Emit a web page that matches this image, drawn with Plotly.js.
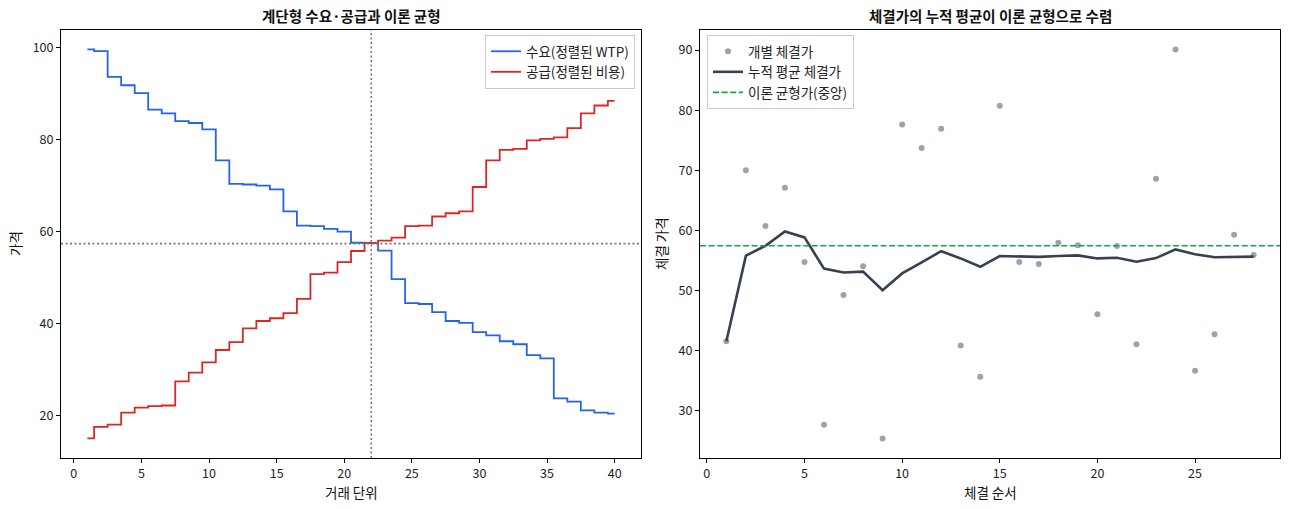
<!DOCTYPE html>
<html>
<head>
<meta charset="utf-8">
<script src="https://cdn.plot.ly/plotly-3.0.1.min.js"></script>
<style>
  html, body { margin: 0; padding: 0; background: #fff; }
  #chart { width: 1289px; height: 509px; }
</style>
</head>
<body>
<div id="chart"></div>
<script>
    'use strict';

    // 거래 단위 1..40
    var units = [];
    for ( var i = 1; i <= 40; i++ ) units.push( i );

    // 정렬된 WTP (수요)
    var demand = [
        99.6, 99.2, 93.6, 91.8, 90.1, 86.5, 85.7, 84.0, 83.6, 82.2,
        75.5, 70.4, 70.25, 70.0, 69.2, 64.4, 61.3, 61.2, 60.6, 60.0,
        57.6, 57.5, 55.9, 49.7, 44.5, 44.3, 42.55, 40.6, 40.2, 38.2,
        37.5, 36.2, 35.55, 33.2, 32.5, 23.8, 23.1, 21.2, 20.7, 20.5
    ];

    // 정렬된 비용 (공급)
    var supply = [
        15.1, 17.6, 18.1, 20.7, 21.8, 22.1, 22.25, 27.5, 29.4, 31.6,
        34.3, 36.0, 39.0, 40.6, 41.2, 42.3, 45.4, 50.8, 51.1, 53.4,
        55.8, 57.5, 58.05, 58.7, 61.2, 61.3, 63.3, 64.0, 64.4, 69.7,
        75.5, 77.75, 78.0, 79.85, 80.15, 80.5, 82.5, 85.7, 87.4, 88.4
    ];

    var eqQty = 22;
    var eqPrice = 57.4;

    // 체결 순서 1..28
    var tradeNo = [];
    for ( var j = 1; j <= 28; j++ ) tradeNo.push( j );

    var tradePrice = [
        41.5, 70.0, 60.7, 67.05, 54.7, 27.6, 49.2, 54.0, 25.3, 77.6,
        73.7, 76.9, 40.8, 35.6, 80.75, 54.7, 54.35, 57.9, 57.5, 46.0,
        57.35, 41.0, 68.55, 90.1, 36.6, 42.65, 59.25, 55.85
    ];

    var runningMean = [
        41.5, 55.75, 57.4, 59.8, 58.8, 53.6, 52.95, 53.1, 50.0, 52.8,
        54.65, 56.5, 55.3, 53.9, 55.7, 55.65, 55.55, 55.7, 55.8, 55.3,
        55.4, 54.75, 55.35, 56.8, 56.0, 55.5, 55.6, 55.6
    ];

    var FONT = '"Noto Sans CJK KR", "Noto Sans", sans-serif';

    document.addEventListener('DOMContentLoaded', function() {

        var data = [
            { x: units, y: demand, type: 'scatter', mode: 'lines',
              line: { shape: 'hvh', color: '#2563eb', width: 1.8 },
              name: '수요(정렬된 WTP)', legend: 'legend', xaxis: 'x', yaxis: 'y' },
            { x: units, y: supply, type: 'scatter', mode: 'lines',
              line: { shape: 'hvh', color: '#dc2626', width: 1.8 },
              name: '공급(정렬된 비용)', legend: 'legend', xaxis: 'x', yaxis: 'y' },
            { x: tradeNo, y: tradePrice, type: 'scatter', mode: 'markers',
              marker: { color: '#9ca3af', size: 6 },
              name: '개별 체결가', legend: 'legend2', xaxis: 'x2', yaxis: 'y2' },
            { x: tradeNo, y: runningMean, type: 'scatter', mode: 'lines',
              line: { color: '#374151', width: 2.6 },
              name: '누적 평균 체결가', legend: 'legend2', xaxis: 'x2', yaxis: 'y2' }
        ];

        var axisBase = {
            showgrid: false, zeroline: false, showline: true, mirror: true,
            linecolor: '#000', linewidth: 1, ticks: 'outside', ticklen: 4,
            tickcolor: '#000', tickfont: { family: FONT, size: 12.5, color: '#222' },
            automargin: false
        };

        var ax = function( extra ) { return Object.assign( {}, axisBase, extra ); };

        var legendBase = {
            bgcolor: 'rgba(255,255,255,0.85)', bordercolor: '#cccccc', borderwidth: 1,
            font: { family: FONT, size: 13.5, color: '#222' },
            tracegroupgap: 0, itemwidth: 30
        };

        var label = function( text, x, y, size, angle ) {
            return { text: text, xref: 'paper', yref: 'paper', x: x / 1289, y: 1 - y / 509,
                     xanchor: 'center', yanchor: 'middle', showarrow: false, textangle: angle || 0,
                     font: { family: FONT, size: size, color: '#111' } };
        };

        var layout = {
            width: 1289, height: 509,
            margin: { l: 0, r: 0, t: 0, b: 0 },
            paper_bgcolor: '#fff', plot_bgcolor: '#fff',
            font: { family: FONT },
            xaxis: ax({ domain: [ 61 / 1289, 641 / 1289 ], range: [ -0.95, 41.95 ],
                        tickvals: [ 0, 5, 10, 15, 20, 25, 30, 35, 40 ], anchor: 'y' }),
            yaxis: ax({ domain: [ 1 - 458 / 509, 1 - 30 / 509 ], range: [ 10.85, 103.8 ],
                        tickvals: [ 20, 40, 60, 80, 100 ], anchor: 'x' }),
            xaxis2: ax({ domain: [ 700 / 1289, 1280 / 1289 ], range: [ -0.35, 29.35 ],
                         tickvals: [ 0, 5, 10, 15, 20, 25 ], anchor: 'y2' }),
            yaxis2: ax({ domain: [ 1 - 458 / 509, 1 - 30 / 509 ], range: [ 22.05, 93.35 ],
                         tickvals: [ 30, 40, 50, 60, 70, 80, 90 ], anchor: 'x2' }),
            legend: Object.assign( {}, legendBase,
                { x: 635 / 1289, y: 1 - 35 / 509, xanchor: 'right', yanchor: 'top' } ),
            legend2: Object.assign( {}, legendBase,
                { x: 707 / 1289, y: 1 - 35 / 509, xanchor: 'left', yanchor: 'top' } ),
            shapes: [
                { type: 'line', xref: 'x', yref: 'y domain', x0: eqQty, x1: eqQty, y0: 0, y1: 1,
                  line: { color: '#777', width: 1.6, dash: '2px,2.5px' } },
                { type: 'line', xref: 'x domain', yref: 'y', x0: 0, x1: 1, y0: eqPrice, y1: eqPrice,
                  line: { color: '#777', width: 1.6, dash: '2px,2.5px' } },
                { type: 'line', xref: 'x2 domain', yref: 'y2', x0: 0, x1: 1, y0: eqPrice, y1: eqPrice,
                  line: { color: '#16a34a', width: 1.6, dash: '6px,2.6px' },
                  showlegend: true, legend: 'legend2', name: '이론 균형가(중앙)' }
            ],
            annotations: [
                label( '<b>계단형 수요·공급과 이론 균형</b>', 351, 16, 14.5 ),
                label( '<b>체결가의 누적 평균이 이론 균형으로 수렴</b>', 990, 16, 14.5 ),
                label( '거래 단위', 351, 492, 13.5 ),
                label( '체결 순서', 990, 492, 13.5 ),
                label( '가격', 15, 244, 13.5, -90 ),
                label( '체결 가격', 661, 244, 13.5, -90 )
            ]
        };

        Plotly.newPlot( 'chart', data, layout, { displayModeBar: false, staticPlot: true } );
    });
</script>
</body>
</html>
